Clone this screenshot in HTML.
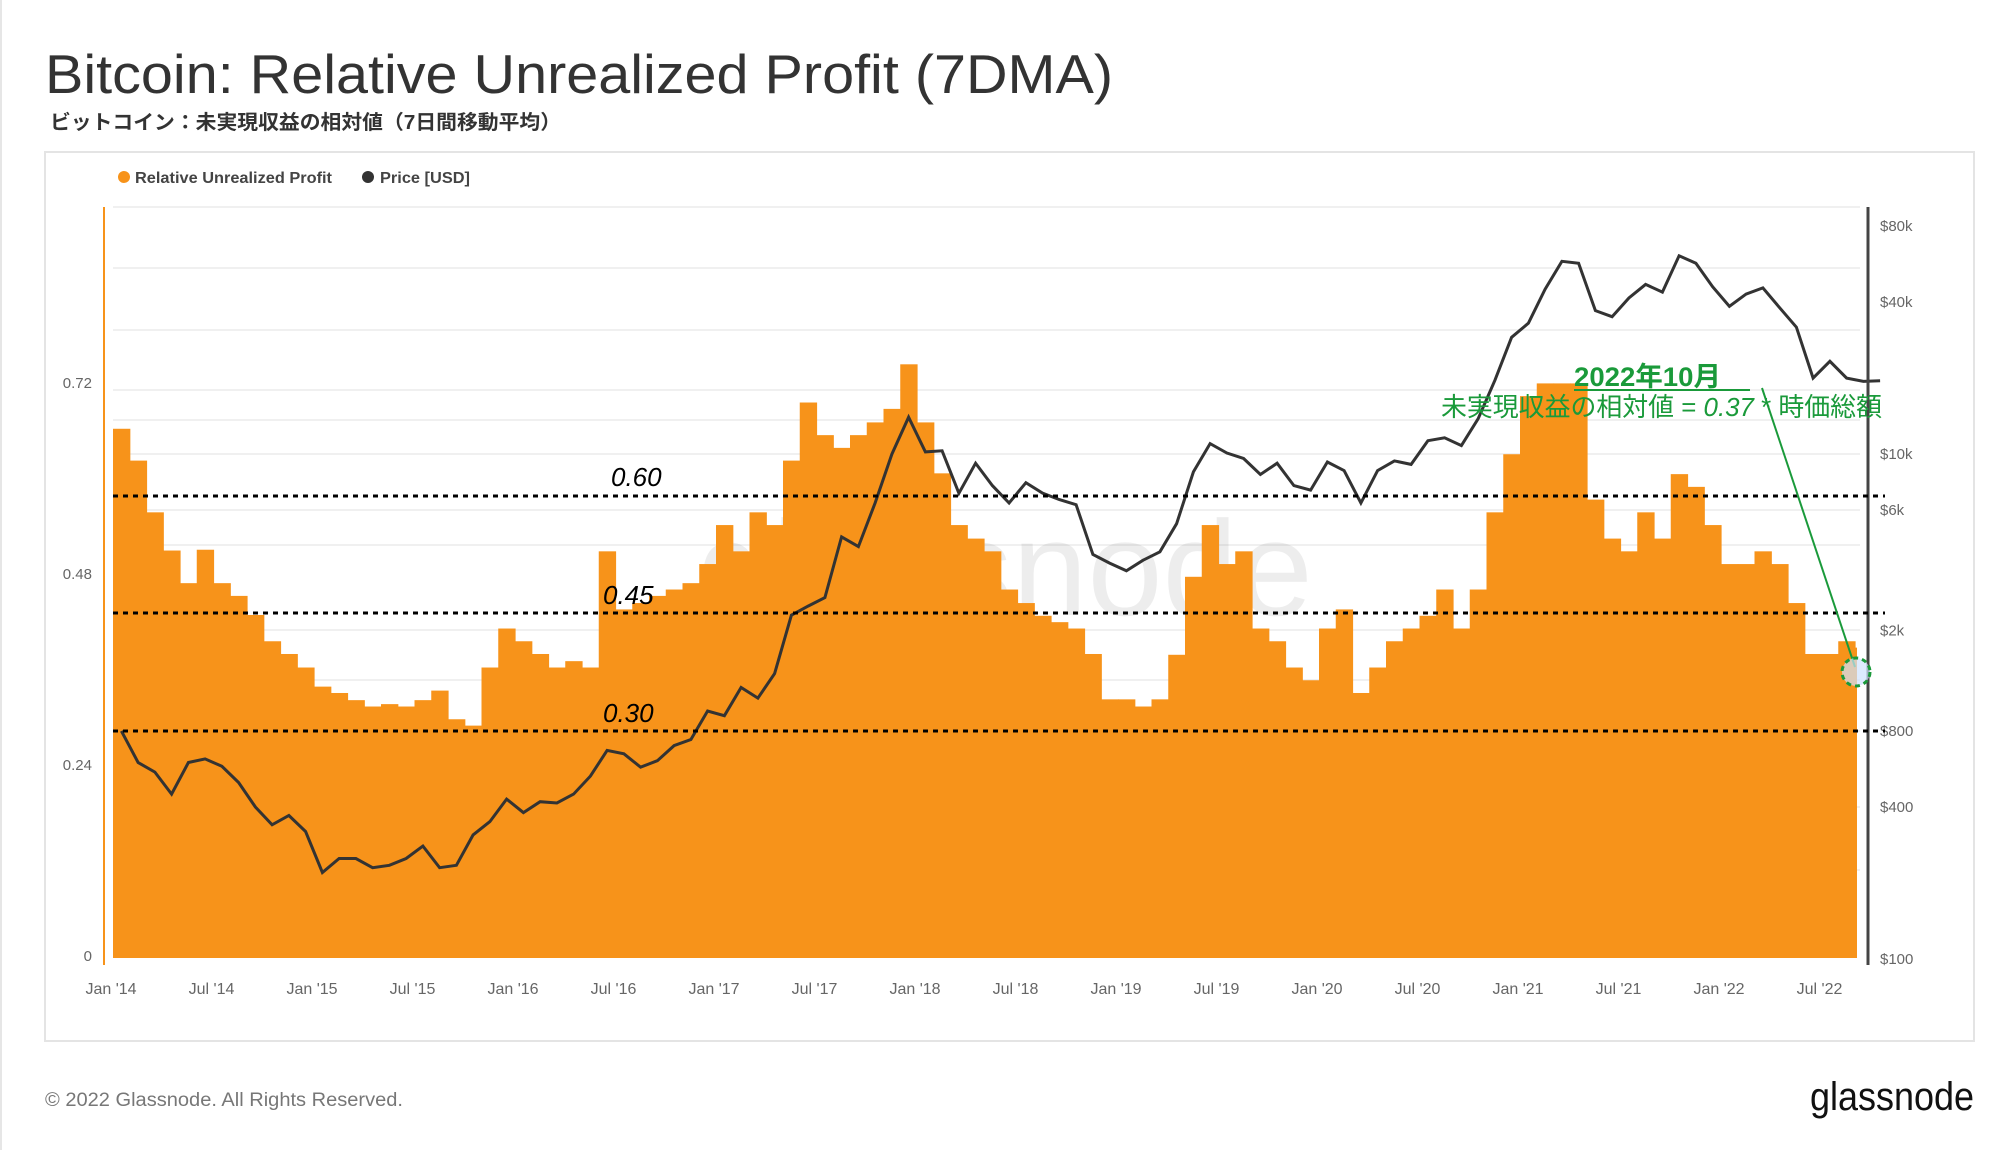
<!DOCTYPE html>
<html><head><meta charset="utf-8"><style>
body{margin:0;width:2000px;height:1150px;background:#fff;overflow:hidden;font-family:"Liberation Sans","Noto Sans CJK JP",sans-serif;}
</style></head><body>
<svg id="chart" width="2000" height="1150" xmlns="http://www.w3.org/2000/svg" font-family="Liberation Sans, Noto Sans CJK JP, sans-serif">
<line x1="1" y1="0" x2="1" y2="1150" stroke="#e6e6e6" stroke-width="2"/>
<text x="45" y="93" font-size="55" fill="#333" textLength="1068" lengthAdjust="spacingAndGlyphs">Bitcoin: Relative Unrealized Profit (7DMA)</text>
<text x="50" y="129" font-size="20" font-weight="bold" fill="#333" textLength="511" lengthAdjust="spacingAndGlyphs">ビットコイン：未実現収益の相対値（7日間移動平均）</text>
<rect x="45" y="152" width="1929" height="889" fill="#fff" stroke="#e4e4e4" stroke-width="2"/>
<g>
<circle cx="124" cy="177" r="6" fill="#f7931a"/>
<text x="135" y="183" font-size="16" font-weight="bold" fill="#444" textLength="197" lengthAdjust="spacingAndGlyphs">Relative Unrealized Profit</text>
<circle cx="368" cy="177" r="6" fill="#333"/>
<text x="380" y="183" font-size="16" font-weight="bold" fill="#444" textLength="90" lengthAdjust="spacingAndGlyphs">Price [USD]</text>
</g>
<g id="grid"></g>
<text x="1005" y="615" font-size="135" fill="#000" fill-opacity="0.07" text-anchor="middle">glassnode</text>
<g id="bars"></g>
<path id="priceLine" fill="none" stroke="#333" stroke-width="3"/>
<line x1="104" y1="207" x2="104" y2="965" stroke="#f7931a" stroke-width="2"/>
<line x1="1868" y1="207" x2="1868" y2="965" stroke="#444" stroke-width="3"/>
<g id="axes" font-size="15" fill="#666"></g>
<g stroke="#000" stroke-width="3" stroke-dasharray="5,5">
<line x1="113" y1="496" x2="1885" y2="496"/>
<line x1="113" y1="613" x2="1885" y2="613"/>
<line x1="113" y1="731" x2="1885" y2="731"/>
</g>
<g font-size="26" font-style="italic" fill="#000">
<text x="611" y="486">0.60</text>
<text x="603" y="604">0.45</text>
<text x="603" y="722">0.30</text>
</g>
<g fill="#1a9a3a">
<text x="1574" y="386" font-size="27" font-weight="bold" textLength="147" lengthAdjust="spacingAndGlyphs">2022年10月</text>
<line x1="1574" y1="390" x2="1750" y2="390" stroke="#1a9a3a" stroke-width="2"/>
<text x="1441" y="416" font-size="26" textLength="441" lengthAdjust="spacingAndGlyphs">未実現収益の相対値 = <tspan font-style="italic">0.37</tspan> * 時価総額</text>
<line x1="1762" y1="388" x2="1855" y2="667" stroke="#1a9a3a" stroke-width="2"/>
<circle cx="1856" cy="672" r="14" fill="#cfe2ff" fill-opacity="0.7" stroke="#1a9a3a" stroke-width="3" stroke-dasharray="5,4"/>
</g>
<text x="45" y="1106" font-size="19" fill="#777" textLength="358" lengthAdjust="spacingAndGlyphs">© 2022 Glassnode. All Rights Reserved.</text>
<text x="1810" y="1110" font-size="40" fill="#111" textLength="164" lengthAdjust="spacingAndGlyphs">glassnode</text>
</svg>
<script>
const startYear = 2014;
const rupValues = [
0.665,0.625,0.560,0.512,0.471,0.513,0.471,0.455,0.431,0.398,0.382,0.365,
0.341,0.333,0.324,0.316,0.319,0.316,0.324,0.336,0.300,0.292,0.365,0.414,
0.398,0.382,0.365,0.373,0.365,0.511,0.438,0.446,0.455,0.463,0.471,0.495,
0.544,0.511,0.560,0.544,0.625,0.698,0.657,0.641,0.657,0.673,0.690,0.746,
0.673,0.609,0.544,0.527,0.511,0.463,0.446,0.430,0.422,0.414,0.382,0.325,
0.325,0.316,0.325,0.381,0.479,0.544,0.495,0.511,0.414,0.398,0.365,0.349,
0.414,0.438,0.333,0.365,0.398,0.414,0.430,0.463,0.414,0.463,0.560,0.633,
0.706,0.722,0.722,0.722,0.576,0.527,0.511,0.560,0.527,0.608,0.592,0.544,
0.495,0.495,0.511,0.495,0.446,0.382,0.382,0.398,0.390,0.365];
const priceValues = [
800,600,550,450,600,620,580,500,400,340,370,320,
220,250,250,230,235,250,280,230,235,310,350,430,
380,420,415,450,530,670,650,575,610,700,740,960,
920,1190,1080,1350,2300,2500,2700,4700,4300,6400,10000,14000,
10200,10300,7000,9200,7500,6400,7700,7000,6600,6300,4000,3700,
3450,3800,4100,5300,8500,11000,10100,9600,8300,9200,7500,7200,
9300,8600,6400,8600,9400,9100,11300,11600,10800,13800,19600,29000,
33000,45000,58000,57000,37000,35000,41500,47000,43800,61000,57000,46000,
38500,43000,45500,38000,31800,20000,23300,20000,19400,19500];
const leftTicks = [0,0.24,0.48,0.72];
const leftTickLabels = ["0","0.24","0.48","0.72"];
const rightTicks = [100,400,800,2000,6000,10000,40000,80000];
const rightTickLabels = ["$100","$400","$800","$2k","$6k","$10k","$40k","$80k"];
const xTickYears = [2014,2014.5,2015,2015.5,2016,2016.5,2017,2017.5,2018,2018.5,2019,2019.5,2020,2020.5,2021,2021.5,2022,2022.5];
const xTickLabels = ["Jan '14","Jul '14","Jan '15","Jul '15","Jan '16","Jul '16","Jan '17","Jul '17","Jan '18","Jul '18","Jan '19","Jul '19","Jan '20","Jul '20","Jan '21","Jul '21","Jan '22","Jul '22"];

const NS="http://www.w3.org/2000/svg";
const xT = t => 113 + (t-2014)*201;
const yL = v => 958 - v/0.24*191;
const yR = p => 959 - Math.log2(p/100)*76;
function mk(tag, attrs, parent){const e=document.createElementNS(NS,tag);for(const k in attrs)e.setAttribute(k,attrs[k]);parent.appendChild(e);return e;}

const grid=document.getElementById('grid');
[207,268,330,390,420,454,510,545,630,680,731,807,870].forEach(y=>{
  const l=mk('line',{x1:113,x2:1860,y1:y,y2:y,stroke:'#f0f0f0','stroke-width':2},grid);
  
  
});

const bars=document.getElementById('bars');
const step=201/12;
rupValues.forEach((v,i)=>{
  const t=startYear+i/12;
  const x=xT(t);
  const r=mk('rect',{x:x,y:yL(v),width:Math.min(step+0.6,1857-x),height:958-yL(v),fill:'#f7931a'},bars);
  
  
});

let d='';
priceValues.forEach((p,i)=>{const t=startYear+i/12+1/24;d+=(i?'L':'M')+xT(t).toFixed(1)+','+yR(p).toFixed(1);});
document.getElementById('priceLine').setAttribute('d',d);

const axes=document.getElementById('axes');
leftTicks.forEach((v,i)=>{
  const tx=mk('text',{x:92,y:yL(v)+3,'text-anchor':'end'},axes);tx.textContent=leftTickLabels[i];
  
  
});
rightTicks.forEach((p,i)=>{
  const tx=mk('text',{x:1880,y:yR(p)+5},axes);tx.textContent=rightTickLabels[i];
  
  
});
xTickYears.forEach((t,i)=>{
  const tx=mk('text',{x:xT(t)-2,y:994,'text-anchor':'middle','font-size':16},axes);tx.textContent=xTickLabels[i];
  
  
});
</script>
</body></html>
